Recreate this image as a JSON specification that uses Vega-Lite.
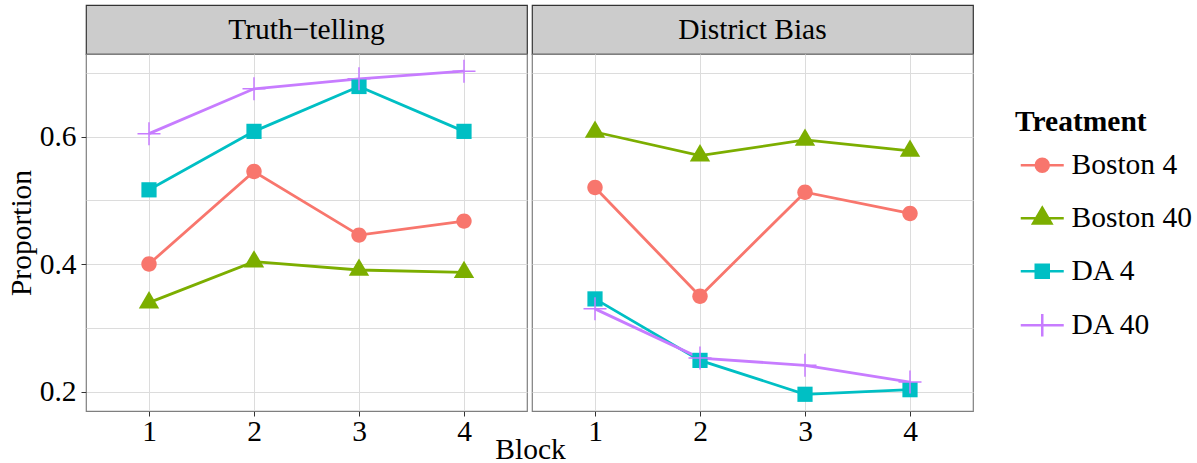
{
  "$schema": "https://vega.github.io/schema/vega-lite/v6.json",
  "padding": {"left": 5, "top": 4, "right": 5, "bottom": 5},
  "background": "white",
  "config": {
    "font": "Liberation Serif",
    "view": {"stroke": "#7f7f7f", "strokeWidth": 1.2},
    "axis": {
      "labelFont": "Liberation Serif", "labelFontSize": 29.5, "labelColor": "#000000",
      "titleFont": "Liberation Serif", "titleFontSize": 29.5, "titleFontWeight": "normal", "titleColor": "#000000",
      "gridColor": "#dcdcdc", "gridWidth": 1, "tickColor": "#333333", "tickSize": 5, "domain": false
    },
    "legend": {
      "titleFont": "Liberation Serif", "titleFontSize": 29.5, "titleFontWeight": "bold", "titleColor": "#000000",
      "labelFont": "Liberation Serif", "labelFontSize": 29.5, "labelColor": "#000000"
    }
  },
  "datasets": {
    "main": [
      {"panel": "Truth−telling", "Treatment": "Boston 4", "Block": 1, "Proportion": 0.4005},
      {"panel": "Truth−telling", "Treatment": "Boston 4", "Block": 2, "Proportion": 0.5453},
      {"panel": "Truth−telling", "Treatment": "Boston 4", "Block": 3, "Proportion": 0.4458},
      {"panel": "Truth−telling", "Treatment": "Boston 4", "Block": 4, "Proportion": 0.4677},
      {"panel": "Truth−telling", "Treatment": "Boston 40", "Block": 1, "Proportion": 0.340},
      {"panel": "Truth−telling", "Treatment": "Boston 40", "Block": 2, "Proportion": 0.4042},
      {"panel": "Truth−telling", "Treatment": "Boston 40", "Block": 3, "Proportion": 0.3911},
      {"panel": "Truth−telling", "Treatment": "Boston 40", "Block": 4, "Proportion": 0.3875},
      {"panel": "Truth−telling", "Treatment": "DA 4", "Block": 1, "Proportion": 0.5167},
      {"panel": "Truth−telling", "Treatment": "DA 4", "Block": 2, "Proportion": 0.6083},
      {"panel": "Truth−telling", "Treatment": "DA 4", "Block": 3, "Proportion": 0.6786},
      {"panel": "Truth−telling", "Treatment": "DA 4", "Block": 4, "Proportion": 0.6083},
      {"panel": "Truth−telling", "Treatment": "DA 40", "Block": 1, "Proportion": 0.6047},
      {"panel": "Truth−telling", "Treatment": "DA 40", "Block": 2, "Proportion": 0.675},
      {"panel": "Truth−telling", "Treatment": "DA 40", "Block": 3, "Proportion": 0.6906},
      {"panel": "Truth−telling", "Treatment": "DA 40", "Block": 4, "Proportion": 0.7026},
      {"panel": "District Bias", "Treatment": "Boston 4", "Block": 1, "Proportion": 0.5203},
      {"panel": "District Bias", "Treatment": "Boston 4", "Block": 2, "Proportion": 0.350},
      {"panel": "District Bias", "Treatment": "Boston 4", "Block": 3, "Proportion": 0.513},
      {"panel": "District Bias", "Treatment": "Boston 4", "Block": 4, "Proportion": 0.4797},
      {"panel": "District Bias", "Treatment": "Boston 40", "Block": 1, "Proportion": 0.6073},
      {"panel": "District Bias", "Treatment": "Boston 40", "Block": 2, "Proportion": 0.5703},
      {"panel": "District Bias", "Treatment": "Boston 40", "Block": 3, "Proportion": 0.5948},
      {"panel": "District Bias", "Treatment": "Boston 40", "Block": 4, "Proportion": 0.5776},
      {"panel": "District Bias", "Treatment": "DA 4", "Block": 1, "Proportion": 0.3458},
      {"panel": "District Bias", "Treatment": "DA 4", "Block": 2, "Proportion": 0.2495},
      {"panel": "District Bias", "Treatment": "DA 4", "Block": 3, "Proportion": 0.1964},
      {"panel": "District Bias", "Treatment": "DA 4", "Block": 4, "Proportion": 0.2036},
      {"panel": "District Bias", "Treatment": "DA 40", "Block": 1, "Proportion": 0.3302},
      {"panel": "District Bias", "Treatment": "DA 40", "Block": 2, "Proportion": 0.2531},
      {"panel": "District Bias", "Treatment": "DA 40", "Block": 3, "Proportion": 0.2417},
      {"panel": "District Bias", "Treatment": "DA 40", "Block": 4, "Proportion": 0.2156}
    ]
  },
  "columns": 2,
  "spacing": {"row": 0, "column": 5},
  "bounds": "flush",
  "concat": [
    {
      "data": {"values": [{"strip": "Truth−telling"}]},
      "width": 441, "height": 49,
      "view": {"fill": "#cccccc", "stroke": "#333333", "strokeWidth": 1.2},
      "mark": {"type": "text", "fontSize": 29.5, "font": "Liberation Serif", "color": "#000000", "baseline": "middle"},
      "encoding": {"text": {"field": "strip"}}
    },
    {
      "data": {"values": [{"strip": "District Bias"}]},
      "width": 441, "height": 49,
      "view": {"fill": "#cccccc", "stroke": "#333333", "strokeWidth": 1.2},
      "mark": {"type": "text", "fontSize": 29.5, "font": "Liberation Serif", "color": "#000000", "baseline": "middle"},
      "encoding": {"text": {"field": "strip"}}
    },
    {
      "data": {"name": "main"},
      "width": 441, "height": 357,
      "transform": [{"filter": "datum.panel != 'District Bias'"}],
      "encoding": {
        "x": {"field": "Block", "type": "quantitative",
          "scale": {"domain": [0.4, 4.6], "nice": false, "zero": false},
          "axis": {"values": [1, 2, 3, 4], "format": "d", "grid": true, "labelPadding": 1,
            "title": "Block", "titleX": 444, "titleY": 47, "titleBaseline": "alphabetic", "titleAlign": "center"}},
        "y": {"field": "Proportion", "type": "quantitative",
          "scale": {"domain": [0.1702, 0.7295], "nice": false, "zero": false},
          "axis": {"values": [0.2, 0.3, 0.4, 0.5, 0.6, 0.7], "grid": true, "title": "Proportion", "labelPadding": 5, "titlePadding": 3,
            "labelExpr": "round(datum.value*10) % 2 == 0 ? format(datum.value, '.1f') : ''",
            "tickOpacity": {"condition": {"test": "round(datum.value*10) % 2 == 0", "value": 1}, "value": 0}}},
        "color": {"field": "Treatment", "type": "nominal",
          "scale": {"domain": ["Boston 4", "Boston 40", "DA 4", "DA 40"], "range": ["#F8766D", "#7CAE00", "#00BFC4", "#C77CFF"]},
          "legend": {
            "title": "Treatment", "orient": "none", "legendX": 929, "legendY": 103, "titlePadding": 13,
            "symbolSize": 400, "symbolOffset": 12.5, "labelOffset": 14.5, "rowPadding": 22,
            "encode": {"symbols": {"update": {
              "shape": {"signal": "datum.value === 'Boston 4' ? 'M-2.15,0H2.15M-0.65,0A0.65,0.65,0,1,1,0.65,0A0.65,0.65,0,1,1,-0.65,0Z' : datum.value === 'Boston 40' ? 'M-2.15,0H2.15M0,-1.05L0.92,0.53L-0.92,0.53Z' : datum.value === 'DA 4' ? 'M-2.15,0H2.15M-0.65,-0.65H0.65V0.65H-0.65Z' : 'M-2.15,0H2.15M0,-1.13V1.13'"},
              "fill": {"scale": "color", "field": "value"},
              "stroke": {"scale": "color", "field": "value"},
              "strokeWidth": {"value": 2.5},
              "opacity": {"value": 1}
            }}}
          }}
      },
      "layer": [
        {"mark": {"type": "line", "strokeWidth": 2.8}},
        {"transform": [{"filter": "datum.Treatment == 'Boston 4'"}],
         "mark": {"type": "point", "filled": true, "size": 400, "opacity": 1, "shape": "M-0.77,0A0.77,0.77,0,1,1,0.77,0A0.77,0.77,0,1,1,-0.77,0Z"}},
        {"transform": [{"filter": "datum.Treatment == 'Boston 40'"}],
         "mark": {"type": "point", "filled": true, "size": 400, "opacity": 1, "shape": "M0,-1.15L1.02,0.58L-1.02,0.58Z"}},
        {"transform": [{"filter": "datum.Treatment == 'DA 4'"}],
         "mark": {"type": "point", "filled": true, "size": 400, "opacity": 1, "shape": "M-0.76,-0.76H0.76V0.76H-0.76Z"}},
        {"transform": [{"filter": "datum.Treatment == 'DA 40'"}],
         "mark": {"type": "point", "filled": false, "size": 400, "opacity": 1, "strokeWidth": 1.5, "shape": "M-1.15,0H1.15M0,-1.15V1.15"}}
      ]
    },
    {
      "data": {"name": "main"},
      "width": 441, "height": 357,
      "transform": [{"filter": "datum.panel == 'District Bias'"}],
      "encoding": {
        "x": {"field": "Block", "type": "quantitative",
          "scale": {"domain": [0.4, 4.6], "nice": false, "zero": false},
          "axis": {"values": [1, 2, 3, 4], "format": "d", "grid": true, "labelPadding": 1, "title": null}},
        "y": {"field": "Proportion", "type": "quantitative",
          "scale": {"domain": [0.1702, 0.7295], "nice": false, "zero": false},
          "axis": {"values": [0.2, 0.3, 0.4, 0.5, 0.6, 0.7], "grid": true, "title": null, "labels": false, "ticks": false}},
        "color": {"field": "Treatment", "type": "nominal"}
      },
      "layer": [
        {"mark": {"type": "line", "strokeWidth": 2.8}},
        {"transform": [{"filter": "datum.Treatment == 'Boston 4'"}],
         "mark": {"type": "point", "filled": true, "size": 400, "opacity": 1, "shape": "M-0.77,0A0.77,0.77,0,1,1,0.77,0A0.77,0.77,0,1,1,-0.77,0Z"}},
        {"transform": [{"filter": "datum.Treatment == 'Boston 40'"}],
         "mark": {"type": "point", "filled": true, "size": 400, "opacity": 1, "shape": "M0,-1.15L1.02,0.58L-1.02,0.58Z"}},
        {"transform": [{"filter": "datum.Treatment == 'DA 4'"}],
         "mark": {"type": "point", "filled": true, "size": 400, "opacity": 1, "shape": "M-0.76,-0.76H0.76V0.76H-0.76Z"}},
        {"transform": [{"filter": "datum.Treatment == 'DA 40'"}],
         "mark": {"type": "point", "filled": false, "size": 400, "opacity": 1, "strokeWidth": 1.5, "shape": "M-1.15,0H1.15M0,-1.15V1.15"}}
      ]
    }
  ]
}
